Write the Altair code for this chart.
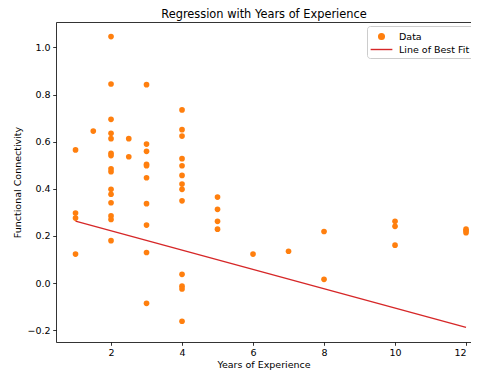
import altair as alt
import pandas as pd

# Data
years = (
    [1, 1, 1, 1]
    + [1.5]
    + [2] * 15
    + [2.5, 2.5]
    + [3] * 10
    + [4] * 13
    + [5] * 4
    + [6, 7, 8, 8]
    + [10, 10, 10]
    + [12, 12, 12]
)
connectivity = (
    [0.565, 0.297, 0.276, 0.123]
    + [0.645]
    + [1.046, 0.845, 0.695, 0.636, 0.613, 0.551, 0.541, 0.485, 0.473, 0.398, 0.377, 0.341, 0.285, 0.270, 0.180]
    + [0.613, 0.536]
    + [0.842, 0.590, 0.559, 0.504, 0.498, 0.447, 0.337, 0.246, 0.130, -0.086]
    + [0.735, 0.651, 0.624, 0.528, 0.498, 0.457, 0.420, 0.398, 0.349, 0.037, -0.013, -0.025, -0.162]
    + [0.365, 0.313, 0.262, 0.229]
    + [0.123, 0.135, 0.219, 0.016]
    + [0.262, 0.241, 0.161]
    + [0.229, 0.222, 0.214]
)
fit_x = [1, 12]
fit_y = [0.263, -0.188]

series_names = ["Data", "Line of Best Fit"]
series_colors = ["#ff7f0e", "#d62728"]
x_ticks = [2, 4, 6, 8, 10, 12]
y_ticks = [-0.2, 0.0, 0.2, 0.4, 0.6, 0.8, 1.0]

pts = pd.DataFrame({"x": years, "y": connectivity, "series": "Data"})
fit = pd.DataFrame({"x": fit_x, "y": fit_y, "series": "Line of Best Fit"})

xscale = alt.Scale(domain=[0.45, 12.14], nice=False, zero=False)
yscale = alt.Scale(domain=[-0.25, 1.108], nice=False, zero=False)
cscale = alt.Scale(domain=series_names, range=series_colors)

legend = alt.Legend(
    title=None,
    orient="none",
    legendX=311,
    legendY=4,
    strokeColor="#cccccc",
    fillColor="white",
    cornerRadius=3,
    padding=4,
    labelFont="DejaVu Sans",
    labelFontSize=9.5,
    labelColor="black",
    labelOffset=11,
    symbolOffset=4,
    rowPadding=-2,
    symbolType={"expr": "datum.value == 'Data' ? 'circle' : 'M-2,0L2,0'"},
    symbolFillColor={"expr": "datum.value == 'Data' ? '#ff7f0e' : 'transparent'"},
    symbolStrokeColor={"expr": "datum.value == 'Data' ? 'transparent' : '#d62728'"},
    symbolSize={"expr": "datum.value == 'Data' ? 32 : 118"},
    symbolStrokeWidth=1.4,
    symbolOpacity=1,
)

xaxis = alt.Axis(
    title="Years of Experience",
    values=x_ticks,
    format="d",
    grid=False,
    tickSize=3.3,
    labelPadding=2,
    labelFlush=5,
    titlePadding=3,
)
yaxis = alt.Axis(
    title="Functional Connectivity",
    values=y_ticks,
    format=".1f",
    grid=False,
    tickSize=3.3,
    labelPadding=2.7,
    titlePadding=4.5,
)
topaxis = alt.Axis(
    orient="top",
    title="Regression with Years of Experience",
    titleFontSize=11.4,
    titlePadding=3,
    labels=False,
    ticks=False,
    grid=False,
    domain=True,
)

points = alt.Chart(pts).mark_circle(size=32, opacity=1).encode(
    x=alt.X("x:Q", scale=xscale, axis=xaxis),
    y=alt.Y("y:Q", scale=yscale, axis=yaxis),
    color=alt.Color("series:N", scale=cscale, legend=legend),
)

line = alt.Chart(fit).mark_line(strokeWidth=1.4).encode(
    x=alt.X("x:Q", scale=xscale, axis=topaxis),
    y=alt.Y("y:Q", scale=yscale),
    color=alt.Color("series:N", scale=cscale, legend=legend),
)

chart = (
    alt.layer(points, line)
    .resolve_axis(x="independent")
    .properties(
        width=415,
        height=320,
        autosize=alt.AutoSizeParams(type="none"),
        padding={"left": 48, "top": 14, "right": 0, "bottom": 33},
    )
    .configure_view(strokeWidth=0)
    .configure_axis(
        labelFont="DejaVu Sans",
        titleFont="DejaVu Sans",
        labelFontSize=9.5,
        titleFontSize=9.5,
        titleFontWeight="normal",
        labelColor="black",
        titleColor="black",
        domainColor="black",
        domainWidth=0.8,
        tickColor="black",
        tickWidth=0.8,
    )
)

chart.save("out.html", embed_options={"renderer": "svg", "actions": False})
